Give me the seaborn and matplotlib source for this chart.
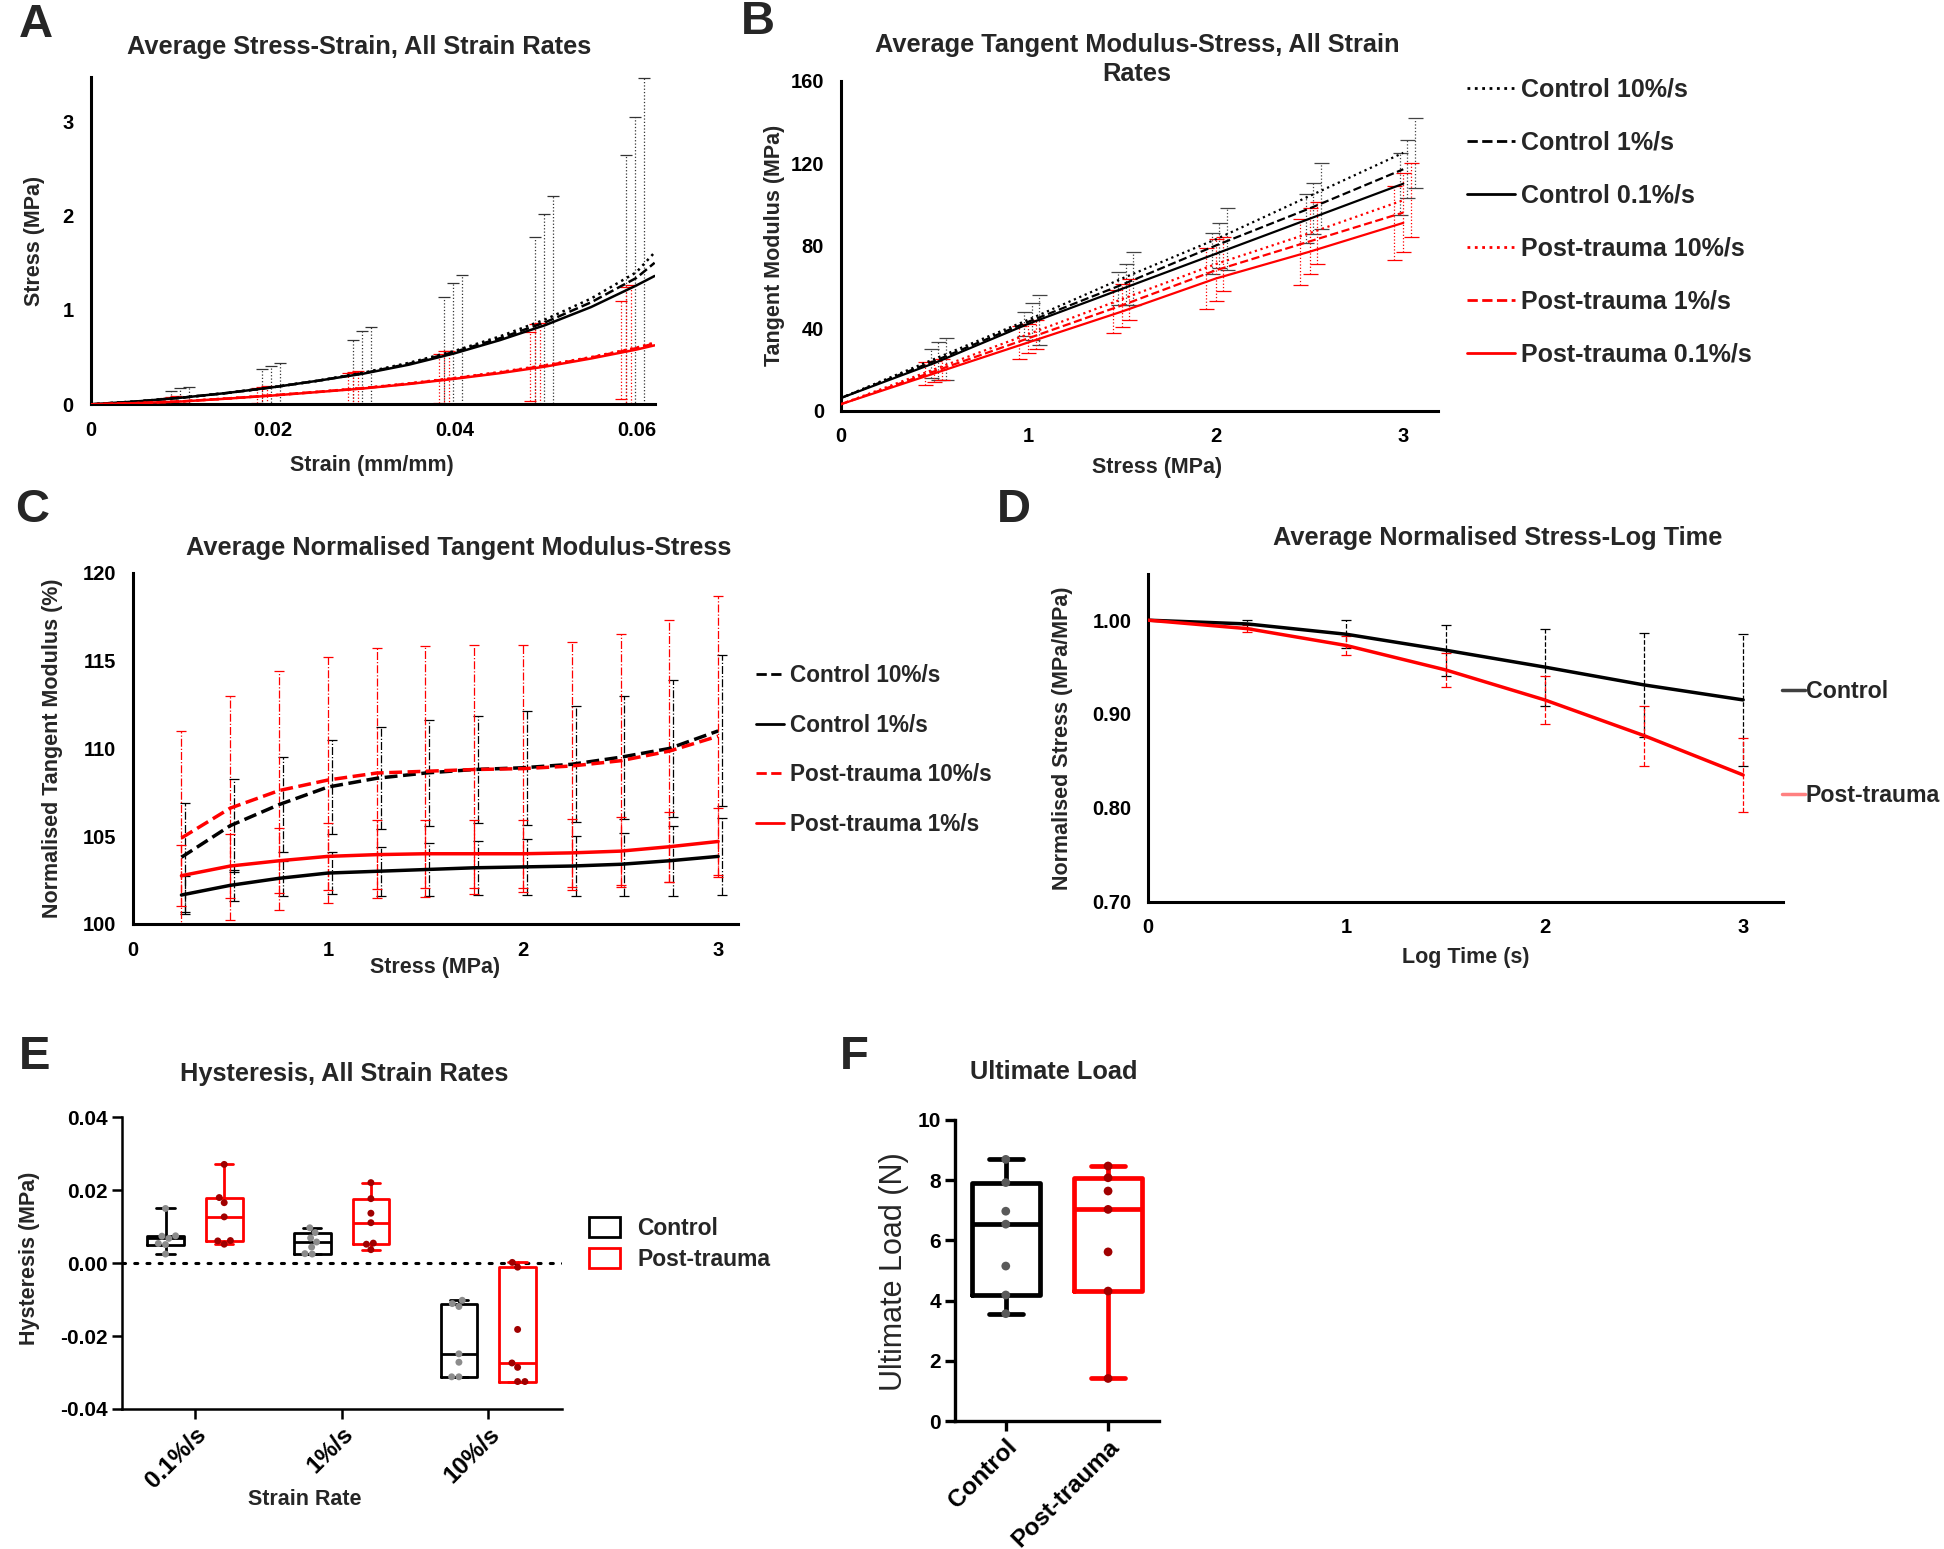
import numpy as np
import pandas as pd
import seaborn as sns
import matplotlib.pyplot as plt
from matplotlib.lines import Line2D
from matplotlib.patches import Patch

# ---------------- data ----------------
# A: average stress-strain
strain = [0, 0.005, 0.01, 0.015, 0.02, 0.025, 0.03, 0.035, 0.04, 0.045, 0.05, 0.055, 0.06, 0.062]
a_ctrl_10 = [0, 0.03, 0.07, 0.12, 0.18, 0.25, 0.335, 0.44, 0.565, 0.72, 0.90, 1.12, 1.40, 1.61]
a_ctrl_1 = [0, 0.03, 0.07, 0.12, 0.18, 0.25, 0.33, 0.43, 0.555, 0.70, 0.87, 1.08, 1.34, 1.50]
a_ctrl_01 = [0, 0.03, 0.07, 0.12, 0.18, 0.25, 0.325, 0.42, 0.54, 0.68, 0.84, 1.03, 1.26, 1.36]
a_pt_10 = [0, 0.012, 0.031, 0.062, 0.096, 0.133, 0.173, 0.222, 0.279, 0.342, 0.415, 0.50, 0.60, 0.655]
a_pt_1 = [0, 0.012, 0.031, 0.061, 0.095, 0.132, 0.171, 0.219, 0.275, 0.337, 0.41, 0.495, 0.595, 0.645]
a_pt_01 = [0, 0.012, 0.03, 0.06, 0.093, 0.13, 0.168, 0.215, 0.27, 0.33, 0.40, 0.485, 0.58, 0.625]
# upper end of the error bars at strain 0.01 ... 0.06
a_err_x = [0.01, 0.02, 0.03, 0.04, 0.05, 0.06]
a_ctrl_10_top = [0.186, 0.436, 0.818, 1.37, 2.21, 3.46]
a_ctrl_1_top = [0.175, 0.41, 0.775, 1.286, 2.02, 3.05]
a_ctrl_01_top = [0.143, 0.37, 0.686, 1.14, 1.77, 2.64]
a_pt_10_top = [0.086, 0.193, 0.357, 0.57, 0.857, 1.265]
a_pt_1_top = [0.08, 0.185, 0.346, 0.56, 0.846, 1.24]
a_pt_01_top = [0.07, 0.168, 0.33, 0.53, 0.764, 1.10]

# B: tangent modulus vs stress
stress_b = [0, 0.5, 1, 1.5, 2, 2.5, 3]
b_ctrl_10 = [6, 25, 44, 64, 83, 104, 125]
b_ctrl_1 = [6, 24, 43, 61, 80, 98, 117]
b_ctrl_01 = [6, 23, 42, 59, 76, 93, 110]
b_pt_10 = [3, 20, 37, 54, 71, 86, 102]
b_pt_1 = [3, 19, 35, 51, 68, 82, 96]
b_pt_01 = [3, 18, 33, 48, 64, 77, 91]
b_ctrl_10_sd = [10, 12, 13, 15, 16, 17]
b_ctrl_1_sd = [9, 9, 10, 11, 12.5, 14]
b_ctrl_01_sd = [7, 6, 8, 10, 12, 15]
b_pt_10_sd = [5, 7, 10, 13, 15, 18]
b_pt_1_sd = [5, 7, 10.5, 15, 16, 19]
b_pt_01_sd = [5.5, 8, 10.5, 15, 16, 18]

# C: normalised tangent modulus vs stress
stress_c = [0.25, 0.5, 0.75, 1.0, 1.25, 1.5, 1.75, 2.0, 2.25, 2.5, 2.75, 3.0]
c_ctrl_10 = [103.8, 105.6, 106.8, 107.8, 108.3, 108.6, 108.8, 108.9, 109.1, 109.5, 110.0, 111.0]
c_ctrl_1 = [101.65, 102.2, 102.6, 102.9, 103.0, 103.1, 103.2, 103.25, 103.3, 103.4, 103.6, 103.85]
c_pt_10 = [104.9, 106.6, 107.6, 108.2, 108.6, 108.7, 108.8, 108.85, 109.0, 109.3, 109.85, 110.7]
c_pt_1 = [102.75, 103.3, 103.6, 103.85, 103.95, 104.0, 104.0, 104.0, 104.05, 104.15, 104.4, 104.7]
c_ctrl_10_sd = [3.1, 2.65, 2.7, 2.7, 2.9, 3.0, 3.05, 3.25, 3.3, 3.5, 3.9, 4.3]
c_ctrl_1_sd = [1.1, 0.9, 1.0, 1.2, 1.4, 1.5, 1.55, 1.6, 1.7, 1.8, 2.0, 2.2]
c_pt_10_sd = [6.1, 6.4, 6.8, 7.0, 7.1, 7.15, 7.1, 7.05, 7.05, 7.2, 7.45, 8.0]
c_pt_1_sd = [1.75, 1.8, 1.85, 1.9, 1.95, 1.95, 1.95, 1.95, 1.95, 1.95, 2.0, 1.9]

# D: normalised stress vs log time
log_time = [0, 0.5, 1, 1.5, 2, 2.5, 3]
d_ctrl = [1.0, 0.996, 0.985, 0.968, 0.950, 0.931, 0.915]
d_pt = [1.0, 0.991, 0.973, 0.947, 0.915, 0.877, 0.835]
d_ctrl_sd = [0.004, 0.015, 0.027, 0.041, 0.055, 0.07]
d_pt_sd = [0.004, 0.01, 0.018, 0.026, 0.032, 0.039]

# E: hysteresis
rates = ['0.1%/s', '1%/s', '10%/s']
e_ctrl = {'0.1%/s': [0.0150, 0.0075, 0.0074, 0.0068, 0.0054, 0.0051, 0.0025],
          '1%/s': [0.0097, 0.0084, 0.0069, 0.0058, 0.0044, 0.0026, 0.0025],
          '10%/s': [-0.0102, -0.0111, -0.0119, -0.0249, -0.0272, -0.0312, -0.0312]}
e_pt = {'0.1%/s': [0.0271, 0.0180, 0.0166, 0.0127, 0.0062, 0.0061, 0.0052],
        '1%/s': [0.0221, 0.0177, 0.0137, 0.0111, 0.0055, 0.0052, 0.0037],
        '10%/s': [0.0002, -0.0011, -0.0182, -0.0274, -0.0286, -0.0325, -0.0325]}

# F: ultimate load
f_groups = ['Control', 'Post-trauma']
f_ctrl = [8.69, 7.92, 6.97, 6.54, 5.15, 4.19, 3.57]
f_pt = [8.47, 8.08, 7.64, 7.03, 5.62, 4.32, 1.42]

RED = '#ff0000'

sns.set_style("white")
plt.rcParams['font.family'] = ['Liberation Sans', 'DejaVu Sans']
plt.rcParams['font.weight'] = 'bold'
plt.rcParams['axes.labelweight'] = 'bold'

fig = plt.figure(figsize=(19.44, 15.49), dpi=100)


def excel_axes(ax):
    sns.despine(ax=ax)
    for s in ['left', 'bottom']:
        ax.spines[s].set_linewidth(2.2)
        ax.spines[s].set_color('black')
    ax.tick_params(length=0, labelsize=14.5, pad=12, colors='black')


def prism_axes(ax, lw):
    sns.despine(ax=ax)
    for s in ['left', 'bottom']:
        ax.spines[s].set_linewidth(lw)
        ax.spines[s].set_color('black')
    ax.tick_params(bottom=True, left=True, direction='out', length=7, width=lw,
                   labelsize=15, pad=3, colors='black')


def labels(ax, xl, yl, xc, yc, size=15.5):
    if xl:
        ax.set_xlabel(xl, fontsize=size)
        ax.xaxis.set_label_coords(*xc)
        ax.xaxis.label.set_va('center')
    if yl:
        ax.set_ylabel(yl, fontsize=size)
        ax.yaxis.set_label_coords(*yc)
        ax.yaxis.label.set_va('center')


def title(ax, text, x, y):
    ax.set_title(text, x=x, y=y, pad=0, va='center', fontsize=18.3, fontweight='bold',
                 linespacing=1.25)


def err(ax, x, mean, sd, color, ls, capsize):
    eb = ax.errorbar(x, mean, yerr=sd, fmt='none', ecolor=color, elinewidth=0.9,
                     capsize=capsize, capthick=0.9, zorder=1)
    eb[2][0].set_linestyle(ls)


# ---------------- A ----------------
axA = fig.add_axes([0.04656, 0.73899, 0.29018, 0.21137])
seriesA = [(a_ctrl_10, a_ctrl_10_top, 'black', ':', 0.0008),
           (a_ctrl_1, a_ctrl_1_top, 'black', '--', -0.0002),
           (a_ctrl_01, a_ctrl_01_top, 'black', '-', -0.0012),
           (a_pt_10, a_pt_10_top, RED, ':', -0.0006),
           (a_pt_1, a_pt_1_top, RED, '--', -0.0011),
           (a_pt_01, a_pt_01_top, RED, '-', -0.0017)]
for vals, top, col, ls, off in seriesA:
    mean = np.array(vals[2::2][:6])
    err(axA, np.array(a_err_x) + off, mean, np.array(top) - mean,
        '#333333' if col == 'black' else RED, ':', 4.3)
for vals, top, col, ls, off in seriesA:
    sns.lineplot(x=strain, y=vals, ax=axA, color=col, linestyle=ls, linewidth=1.8,
                 errorbar=None, zorder=3)
axA.set_xlim(0, 0.062)
axA.set_ylim(0, 3.47)
axA.set_xticks([0, 0.02, 0.04, 0.06], ['0', '0.02', '0.04', '0.06'])
axA.set_yticks([0, 1, 2, 3])
excel_axes(axA)
labels(axA, 'Strain (mm/mm)', 'Stress (MPa)', (0.499, -0.186), (-0.099, 0.5))
title(axA, 'Average Stress-Strain, All Strain Rates', 0.477, 1.091)

# ---------------- B ----------------
axB = fig.add_axes([0.43240, 0.73499, 0.30740, 0.21297])
seriesB = [(b_ctrl_10, b_ctrl_10_sd, 'black', ':', 0.06, 'Control 10%/s'),
           (b_ctrl_1, b_ctrl_1_sd, 'black', '--', 0.02, 'Control 1%/s'),
           (b_ctrl_01, b_ctrl_01_sd, 'black', '-', -0.02, 'Control 0.1%/s'),
           (b_pt_10, b_pt_10_sd, RED, ':', 0.04, 'Post-trauma 10%/s'),
           (b_pt_1, b_pt_1_sd, RED, '--', 0.0, 'Post-trauma 1%/s'),
           (b_pt_01, b_pt_01_sd, RED, '-', -0.05, 'Post-trauma 0.1%/s')]
for vals, sd, col, ls, off, lab in seriesB:
    err(axB, np.array(stress_b[1:]) + off, vals[1:], sd,
        '#444444' if col == 'black' else RED, ':', 5.4)
handlesB = []
for vals, sd, col, ls, off, lab in seriesB:
    sns.lineplot(x=stress_b, y=vals, ax=axB, color=col, linestyle=ls, linewidth=1.6,
                 errorbar=None, zorder=3)
    handlesB.append(Line2D([], [], color=col, linestyle=ls, linewidth=2, label=lab))
axB.set_xlim(0, 3.186)
axB.set_ylim(0, 160)
axB.set_xticks([0, 1, 2, 3])
axB.set_yticks([0, 40, 80, 120, 160])
excel_axes(axB)
labels(axB, 'Stress (MPa)', 'Tangent Modulus (MPa)', (0.529, -0.173), (-0.110, 0.5))
title(axB, 'Average Tangent Modulus-Stress, All Strain\nRates', 0.496, 1.064)
axB.legend(handles=handlesB, loc='upper left', bbox_to_anchor=(1.048, 1.009), frameon=False,
           fontsize=18, handlelength=1.93, handletextpad=0.25, labelspacing=1.16,
           borderpad=0, borderaxespad=0)

# ---------------- C ----------------
axC = fig.add_axes([0.06824, 0.40352, 0.31122, 0.22658])
seriesC = [(c_ctrl_10, c_ctrl_10_sd, 'black', '--', 0.02, 'Control 10%/s'),
           (c_ctrl_1, c_ctrl_1_sd, 'black', '-', 0.02, 'Control 1%/s'),
           (c_pt_10, c_pt_10_sd, RED, '--', 0.0, 'Post-trauma 10%/s'),
           (c_pt_1, c_pt_1_sd, RED, '-', 0.0, 'Post-trauma 1%/s')]
for vals, sd, col, ls, off, lab in seriesC:
    err(axC, np.array(stress_c) + off, vals, sd, col, '-.', 3.6)
handlesC = []
for vals, sd, col, ls, off, lab in seriesC:
    sns.lineplot(x=stress_c, y=vals, ax=axC, color=col, linestyle=ls, linewidth=2.5,
                 errorbar=None, zorder=3)
    handlesC.append(Line2D([], [], color=col, linestyle=ls, linewidth=2, label=lab))
axC.set_xlim(0, 3.10)
axC.set_ylim(100, 120)
axC.set_xticks([0, 1, 2, 3])
axC.set_yticks([100, 105, 110, 115, 120])
excel_axes(axC)
labels(axC, 'Stress (MPa)', 'Normalised Tangent Modulus (%)', (0.5, -0.124), (-0.133, 0.502))
title(axC, 'Average Normalised Tangent Modulus-Stress', 0.539, 1.071)
axC.legend(handles=handlesC, loc='upper left', bbox_to_anchor=(1.031, 0.741), frameon=False,
           fontsize=16.3, handlelength=1.2, handletextpad=0.3, labelspacing=1.18,
           borderpad=0, borderaxespad=0)

# ---------------- D ----------------
axD = fig.add_axes([0.59056, 0.41793, 0.32653, 0.21137])
err(axD, log_time[1:], d_ctrl[1:], d_ctrl_sd, 'black', '--', 3.6)
err(axD, log_time[1:], d_pt[1:], d_pt_sd, RED, '--', 3.6)
sns.lineplot(x=log_time, y=d_ctrl, ax=axD, color='black', linewidth=2.5, errorbar=None, zorder=3)
sns.lineplot(x=log_time, y=d_pt, ax=axD, color=RED, linewidth=2.5, errorbar=None, zorder=3)
axD.set_xlim(0, 3.2)
axD.set_ylim(0.70, 1.049)
axD.set_xticks([0, 1, 2, 3])
axD.set_yticks([0.70, 0.80, 0.90, 1.00], ['0.70', '0.80', '0.90', '1.00'])
excel_axes(axD)
labels(axD, 'Log Time (s)', 'Normalised Stress (MPa/MPa)', (0.5, -0.170), (-0.135, 0.5))
title(axD, 'Average Normalised Stress-Log Time', 0.551, 1.110)
handlesD = [Line2D([], [], color='#404040', linewidth=2.5, label='Control'),
            Line2D([], [], color='#ff8080', linewidth=2.5, label='Post-trauma')]
axD.legend(handles=handlesD, loc='upper left', bbox_to_anchor=(0.998, 0.677), frameon=False,
           fontsize=16.7, handlelength=1.0, handletextpad=0.05, labelspacing=3.51,
           borderpad=0, borderaxespad=0)


def box_stats(vals):
    q1, med, q3 = np.percentile(vals, [25, 50, 75], method='weibull')
    return dict(med=med, q1=q1, q3=q3, whislo=min(vals), whishi=max(vals), fliers=[])


# ---------------- E ----------------
axE = fig.add_axes([0.0625, 0.09047, 0.2264, 0.18815])
rowsE = []
for r in rates:
    for v in e_ctrl[r]:
        rowsE.append((r, 'Control', v))
    for v in e_pt[r]:
        rowsE.append((r, 'Post-trauma', v))
dfE = pd.DataFrame(rowsE, columns=['rate', 'group', 'hysteresis'])
axE.axhline(0, color='black', linewidth=2.2, linestyle=(0, (1, 3)), dash_capstyle='round', zorder=0)
sns.swarmplot(data=dfE, x='rate', y='hysteresis', hue='group', order=rates, dodge=True,
              palette={'Control': '#8c8c8c', 'Post-trauma': '#a00000'}, size=5,
              legend=False, ax=axE, zorder=4)
for i, r in enumerate(rates):
    for grp, col, off in [(e_ctrl, 'black', -0.2), (e_pt, RED, 0.2)]:
        props = dict(color=col, linewidth=2)
        axE.bxp([box_stats(grp[r])], positions=[i + off], widths=0.25, showfliers=False,
                manage_ticks=False, boxprops=props, whiskerprops=props, capprops=props,
                medianprops=props, zorder=2)
axE.set_xlim(-0.5, 2.5)
axE.set_ylim(-0.04, 0.04)
axE.set_yticks([-0.04, -0.02, 0.0, 0.02, 0.04], ['-0.04', '-0.02', '0.00', '0.02', '0.04'])
axE.set_xticks([0, 1, 2], rates)
prism_axes(axE, 1.8)
axE.tick_params(axis='x', labelsize=17.5)
for t in axE.get_xticklabels():
    t.set_rotation(45)
    t.set_ha('right')
    t.set_rotation_mode('anchor')
labels(axE, 'Strain Rate', 'Hysteresis (MPa)', (0.417, -0.311), (-0.208, 0.515))
title(axE, 'Hysteresis, All Strain Rates', 0.507, 1.149)
handlesE = [Patch(facecolor='white', edgecolor='black', linewidth=2, label='Control'),
            Patch(facecolor='white', edgecolor=RED, linewidth=2, label='Post-trauma')]
axE.legend(handles=handlesE, loc='upper left', bbox_to_anchor=(1.062, 0.66), frameon=False,
           fontsize=16.5, handlelength=1.35, handleheight=1.0, handletextpad=0.75,
           labelspacing=0.35, borderpad=0, borderaxespad=0)

# ---------------- F ----------------
axF = fig.add_axes([0.49107, 0.08247, 0.10523, 0.19455])
dfF = pd.DataFrame({'group': ['Control'] * len(f_ctrl) + ['Post-trauma'] * len(f_pt),
                    'load': f_ctrl + f_pt})
sns.swarmplot(data=dfF, x='group', y='load', hue='group', order=f_groups,
              palette={'Control': '#5a5a5a', 'Post-trauma': '#a00000'}, size=6.3,
              legend=False, ax=axF, zorder=4)
for i, (vals, col) in enumerate([(f_ctrl, 'black'), (f_pt, RED)]):
    props = dict(color=col, linewidth=3.4)
    axF.bxp([box_stats(vals)], positions=[i], widths=0.66, showfliers=False,
            manage_ticks=False, boxprops=props, whiskerprops=props, capprops=props,
            medianprops=props, zorder=2)
axF.set_xlim(-0.5, 1.5)
axF.set_ylim(0, 10)
axF.set_yticks([0, 2, 4, 6, 8, 10])
axF.set_xticks([0, 1], f_groups)
prism_axes(axF, 2.4)
axF.tick_params(axis='x', labelsize=17.5)
for t in axF.get_xticklabels():
    t.set_rotation(45)
    t.set_ha('right')
    t.set_rotation_mode('anchor')
axF.set_xlabel('')
labels(axF, None, 'Ultimate Load (N)', None, (-0.297, 0.498))
axF.yaxis.label.set_fontweight('normal')
axF.yaxis.label.set_fontsize(22)
title(axF, 'Ultimate Load', 0.485, 1.160)

# panel letters
for letter, x, y in [('A', 0.0096, 0.9836), ('B', 0.381, 0.986), ('C', 0.0077, 0.671),
                     ('D', 0.513, 0.671), ('E', 0.0096, 0.3175), ('F', 0.432, 0.3175)]:
    fig.text(x, y, letter, fontsize=34, fontweight='bold', ha='left', va='center')

fig.savefig('out.png', dpi=100)
